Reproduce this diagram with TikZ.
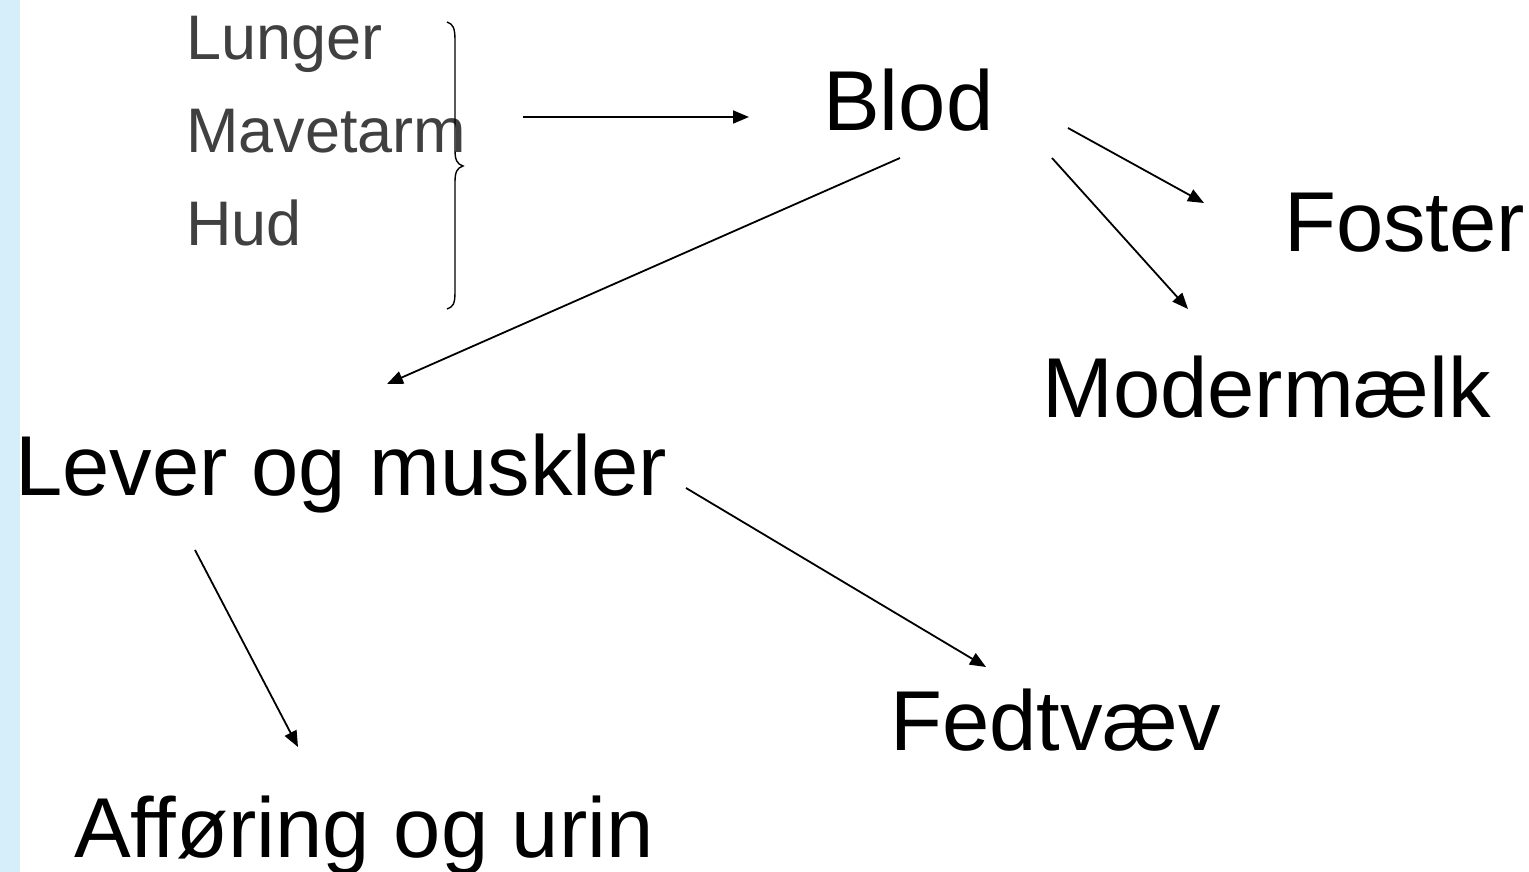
\documentclass[tikz,border=0pt]{standalone}
\usepackage{fontspec}
\setmainfont{Liberation Sans}
\usetikzlibrary{arrows.meta}
\definecolor{strip}{RGB}{214,238,250}
\definecolor{graytext}{RGB}{64,64,64}
\begin{document}
\begin{tikzpicture}[x=1pt,y=-1pt,
  big/.style={anchor=base west,inner sep=0pt,font=\fontsize{85}{85}\selectfont},
  small/.style={anchor=base west,inner sep=0pt,text=graytext,font=\fontsize{63}{63}\selectfont},
  conn/.style={line width=1.8pt,-{Triangle[length=16pt,width=13pt]}}]
\useasboundingbox (0,0) rectangle (1529,872);
\fill[strip] (0,0) rectangle (20,872);
% texts
\node[small] (lunger) at (186,60) {Lunger};
\node[small] (mave) at (186,153) {Mavetarm};
\node[small] (hud) at (186,245) {Hud};
\node[big] (blod) at (823,131) {Blod};
\node[big] (foster) at (1284,251) {Foster};
\node[big] (moder) at (1042,417) {Modermælk};
\node[big] (lever) at (15,495) {Lever og muskler};
\node[big] (fedt) at (890,750) {Fedtvæv};
\node[big] (aff) at (74,857) {Afføring og urin};
% brace
\draw[line width=1.4pt] (447,22) .. controls (453,24) and (455,28) .. (455,40)
  -- (455,150) .. controls (455,160) and (457,164) .. (463,166)
  .. controls (457,168) and (455,172) .. (455,182)
  -- (455,292) .. controls (455,304) and (453,307) .. (447,309);
% connector ends
\coordinate (s1) at (523,117); \coordinate (e1) at (749,117);
\coordinate (s2) at (900,158); \coordinate (e2) at (387,384);
\coordinate (s3) at (1068,128); \coordinate (e3) at (1204,203);
\coordinate (s4) at (1052,158); \coordinate (e4) at (1188,309);
\coordinate (s5) at (686,488); \coordinate (e5) at (986,667);
\coordinate (s6) at (195,550); \coordinate (e6) at (298,747);
\draw[conn] (s1) -- (e1);
\draw[conn] (s2) -- (e2);
\draw[conn] (s3) -- (e3);
\draw[conn] (s4) -- (e4);
\draw[conn] (s5) -- (e5);
\draw[conn] (s6) -- (e6);
\end{tikzpicture}
\end{document}
